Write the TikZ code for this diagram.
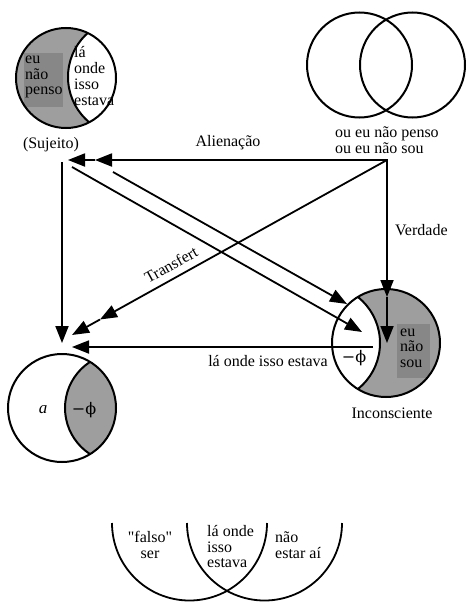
\documentclass[tikz,border=0pt]{standalone}
\usepackage{fontspec}
\setmainfont{Liberation Serif}
\newfontfamily\rawserif{Liberation Serif}[Ligatures=TeXOff]
\newfontfamily\phiserif{DejaVu Serif}
\usetikzlibrary{arrows.meta}
\begin{document}
\begin{tikzpicture}[x=1pt,y=-1pt,
  txt/.style={font=\fontsize{16}{15.5}\selectfont, inner sep=0pt, align=left},
  ctxt/.style={txt, align=center},
  phis/.style={inner sep=0pt, font=\fontsize{16}{16}\selectfont\phiserif},
  circ/.style={line width=2pt},
  ln/.style={line width=1.8pt},
  arr/.style={line width=1.8pt, -{Triangle[length=17pt,width=13pt]}},
  lune/.style={fill=black!38},
  dark/.style={fill=black!47}]
\useasboundingbox (0,0) rectangle (468,602);
\fill[white] (0,0) rectangle (468,602);

% --- top-left circle (Sujeito)
\fill[lune] (66,78) circle[radius=50];
\begin{scope}
  \clip (66,78) circle[radius=50];
  \fill[dark] (24,53) rectangle (63,107);
  \fill[white] (127,77) circle[radius=59];
  \draw[circ] (127,77) circle[radius=59];
\end{scope}
\draw[circ] (66,78) circle[radius=50];
\node[txt,anchor=west] (eunp) at (25,77) {eu\\não\\penso};
\node[txt,anchor=west,font=\fontsize{16}{16}\selectfont] (laon) at (74,76) {lá\\onde\\isso\\estava};
\node[ctxt] (suj) at (51,145) {(Sujeito)};

% --- top-right Venn
\draw[circ] (359.5,65) circle[radius=52.5];
\draw[circ] (412.5,65) circle[radius=52.5];
\node[txt,anchor=west] (ouen) at (335,140) {ou eu não penso\\ou eu não sou};

% --- Inconsciente circle
\fill[lune] (386,343) circle[radius=54];
\begin{scope}
  \clip (386,343) circle[radius=54];
  \fill[dark] (397,324) rectangle (430,378);
  \fill[white] (321,343) circle[radius=59];
  \draw[circ] (321,343) circle[radius=59];
\end{scope}
\draw[circ] (386,343) circle[radius=54];
\node[txt,anchor=west] (ens) at (400,348) {eu\\não\\sou};
\node[phis] (phi1) at (354,358) {−ϕ};
\node[txt] (inc) at (392,413) {Inconsciente};

% --- bottom-left circle (a)
\begin{scope}
  \clip (62,408) circle[radius=54];
  \fill[lune] (120,408) circle[radius=55];
  \draw[circ] (120,408) circle[radius=55];
\end{scope}
\draw[circ] (62,408) circle[radius=54];
\node[txt,font=\fontsize{17}{17}\selectfont] (a) at (43,410) {\textit{a}};
\node[phis] (phi2) at (84,410) {−ϕ};

% --- coordinates
\coordinate (hub) at (387,160);
\coordinate (al1) at (95,160);  \coordinate (al2) at (68,160);
\coordinate (ve1) at (387,297); \coordinate (ve2) at (387,343);
\coordinate (tr1) at (100,319.5); \coordinate (tr2) at (72,335);
\coordinate (sv0) at (62,162);  \coordinate (sv1) at (62,343);
\coordinate (d1a) at (72,167);  \coordinate (d1b) at (362,332);
\coordinate (d2a) at (113,172); \coordinate (d2b) at (347,304);
\coordinate (ba) at (373,347);  \coordinate (bb) at (72,347);

% --- connectors
\draw[ln,{Triangle[length=17pt,width=13pt]}-{Triangle[length=17pt,width=13pt]}] (al1) -- (hub) -- (ve1);
\draw[arr] (al1) -- (al2);
\draw[arr] (ve1) -- (ve2);
\draw[arr] (hub) -- (tr1);
\draw[arr] (tr1) -- (tr2);
\draw[arr] (sv0) -- (sv1);
\draw[arr] (d1a) -- (d1b);
\draw[arr] (d2a) -- (d2b);
\draw[arr] (ba) -- (bb);

% --- labels
\node[txt] (alien) at (228,143) {Alienação};
\node[txt,anchor=west] (verd) at (395,230) {Verdade};
\node[txt,rotate=29] (transf) at (171,265) {Transfert};
\node[txt,anchor=east] (laoie) at (328,361) {lá onde isso estava};

% --- bottom arcs
\draw[ln] (112,523) arc[start angle=180,end angle=0,radius=77.5];
\draw[ln] (187,523) arc[start angle=180,end angle=0,radius=77.5];
\node[ctxt] (falso) at (150,545) {{\rawserif "falso"}\\ser};
\node[txt,anchor=west] (laoi2) at (207,547) {lá onde\\isso\\estava};
\node[txt,anchor=west] (naoe) at (275,545) {não\\estar aí};
\end{tikzpicture}
\end{document}
